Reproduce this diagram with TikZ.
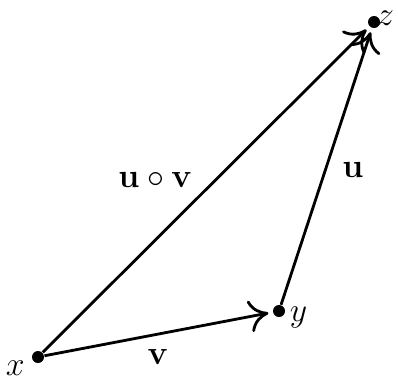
\documentclass[tikz,border=0pt]{standalone}
\usepackage{amsmath, amssymb}
\usepackage{tikz}
\usetikzlibrary{positioning, arrows.meta}
\tikzset{
  pt/.style={circle, fill=black, inner sep=0pt, minimum size=0.15cm},
  vec/.style={-{To[length=2.4mm, width=4mm, line width=1pt]}, line width=1pt, shorten >=1.5pt},
  lbl/.style={font=\large, inner sep=0pt}
}
\begin{document}
\begin{tikzpicture}
  \useasboundingbox (0,0) rectangle (4.975,4.7875);

  % ====== POINTS ======
  \node[pt] (x) at (0.475, 0.325) {};
  \node[pt] (y) at (3.4875, 0.9) {};
  \node[pt] (z) at (4.675, 4.5125) {};
  \node[lbl] (xl) at (0.19, 0.19) {$x$};
  \node[lbl] (yl) at (3.73, 0.82) {$y$};
  \node[lbl] (zl) at (4.82, 4.56) {$z$};

  % ====== VECTORS ======
  \draw[vec] (x) -- (y);
  \draw[vec] (y) -- (z);
  \draw[vec] (x) -- (z);

  % ====== LABELS ======
  \node[lbl] (vl) at (1.975, 0.325) {$\mathbf{v}$};
  \node[lbl] (ul) at (4.41, 2.66) {$\mathbf{u}$};
  \node[lbl] (uvl) at (1.94, 2.54) {$\mathbf{u}\circ\mathbf{v}$};
\end{tikzpicture}
\end{document}
